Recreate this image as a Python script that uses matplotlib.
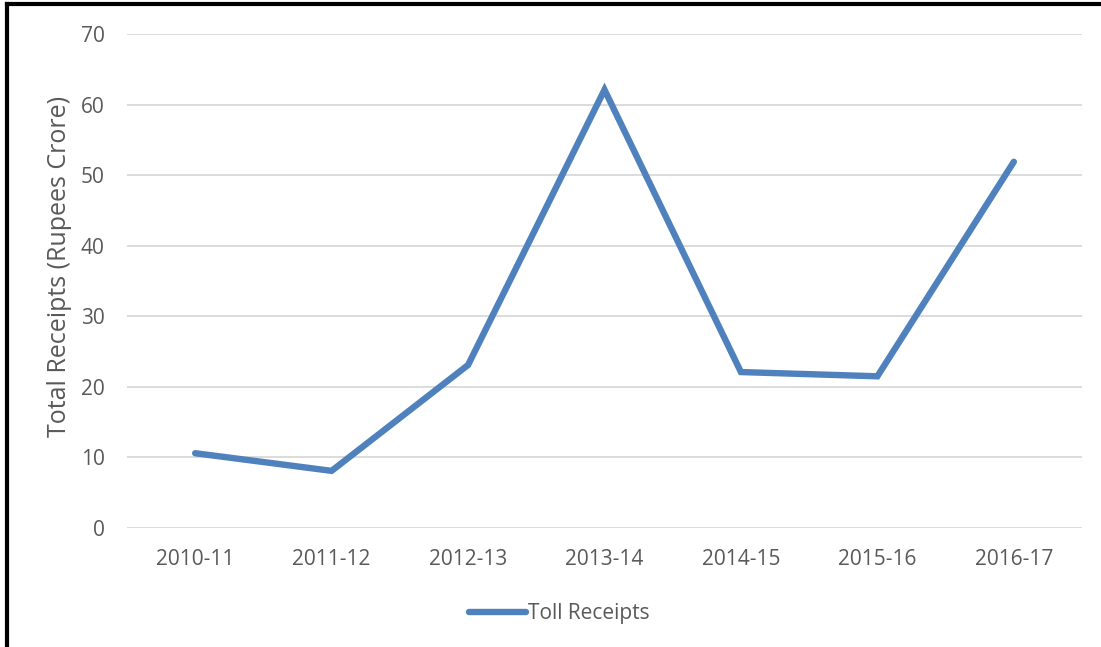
import matplotlib.pyplot as plt
from matplotlib.lines import Line2D

years = ["2010-11", "2011-12", "2012-13", "2013-14", "2014-15", "2015-16", "2016-17"]
toll_receipts = [10.6, 8.1, 23.1, 62.1, 22.1, 21.5, 51.9]

plt.rcParams["font.family"] = ["Open Sans", "DejaVu Sans"]
text_col = "#595959"
line_col = "#4F81BD"

fig = plt.figure(figsize=(11.01, 6.47), dpi=100)
ax = fig.add_axes([0.1153, 0.1839, 0.8675, 0.7635])

x = list(range(len(years)))
ax.plot(x, toll_receipts, color=line_col, lw=4.6, solid_capstyle="round",
        solid_joinstyle="miter", label="Toll Receipts", zorder=3)

ax.set_xlim(-0.5, len(years) - 0.5)
ax.set_ylim(0, 70)
ax.set_yticks(range(0, 71, 10))
ax.set_xticks(x)
ax.set_xticklabels(years)
ax.grid(axis="y", color="#D9D9D9", lw=1.3)
ax.set_axisbelow(True)
for s in ax.spines.values():
    s.set_visible(False)
ax.tick_params(length=0, labelsize=15, colors=text_col, pad=16)
ax.tick_params(axis="x", pad=15)
ax.set_ylabel("Total Receipts (Rupees Crore)", fontsize=18, color=text_col)
ax.yaxis.set_label_coords(-0.058, 0.53)

fig.legend(loc="center", bbox_to_anchor=(0.508, 0.052), frameon=False,
           fontsize=15, labelcolor=text_col, handlelength=2.7, handletextpad=0.1)

# outer frame on left and top
fig.add_artist(Line2D([0.006, 0.006], [0, 0.994], transform=fig.transFigure, color="black", lw=3))
fig.add_artist(Line2D([0.006, 1.0], [0.994, 0.994], transform=fig.transFigure, color="black", lw=3))

fig.savefig("out.png", dpi=100)
